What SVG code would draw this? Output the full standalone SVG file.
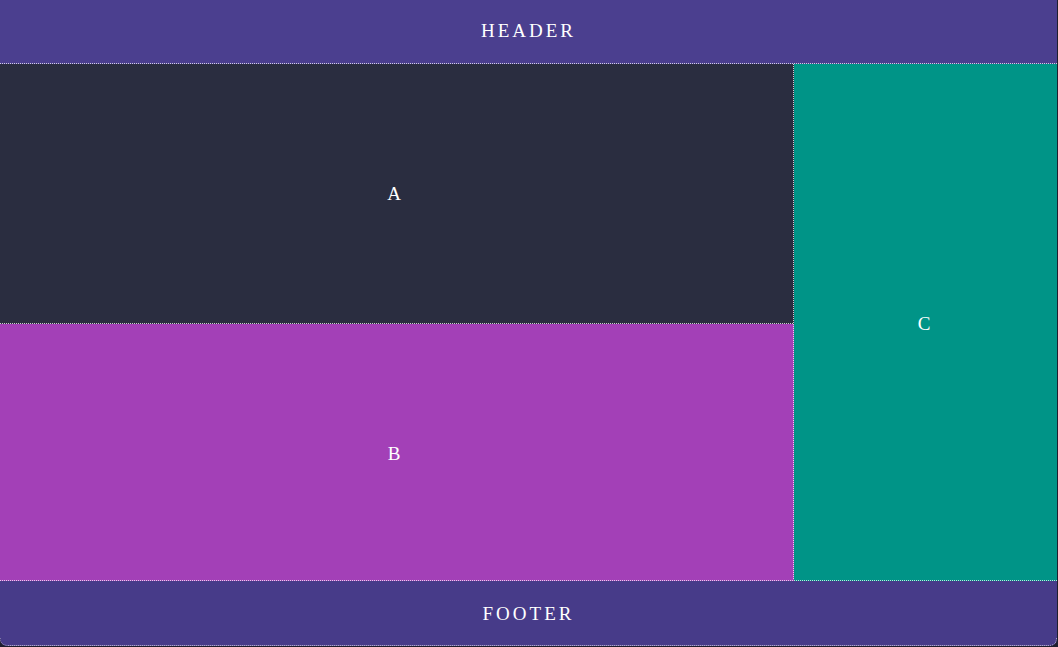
<svg xmlns="http://www.w3.org/2000/svg" width="1058" height="647" viewBox="0 0 1058 647">
<style>
.lbl{font-family:"Liberation Serif","DejaVu Serif",serif;font-size:19px;fill:#ffffff;text-anchor:middle;dominant-baseline:central}
.wide{letter-spacing:3px}
.dot{stroke:#ffffff;stroke-opacity:0.75;stroke-width:1;stroke-dasharray:1 1;fill:none}
</style>
<defs>
<clipPath id="frame"><path d="M0 0H1057V638Q1057 646 1049 646H8Q0 646 0 638Z"/></clipPath>
</defs>
<rect width="1058" height="647" fill="#1e1e2e"/>
<g clip-path="url(#frame)">
<g id="header"><rect x="0" y="0" width="1057" height="64" fill="#4b3f8f"/><text class="lbl wide" x="528.5" y="30">HEADER</text></g>
<g id="A"><rect x="0" y="64" width="794" height="260" fill="#2a2d40"/><text class="lbl" x="394" y="193">A</text></g>
<g id="B"><rect x="0" y="324" width="794" height="257" fill="#a340b7"/><text class="lbl" x="394" y="453">B</text></g>
<g id="C"><rect x="794" y="64" width="263" height="517" fill="#009487"/><text class="lbl" x="924" y="323">C</text></g>
<g id="footer"><rect x="0" y="581" width="1057" height="66" fill="#473b89"/><text class="lbl wide" x="528.5" y="613">FOOTER</text></g>
<g id="borders">
<line class="dot" x1="0" y1="63.5" x2="1057" y2="63.5"/>
<line class="dot" x1="0" y1="323.5" x2="793" y2="323.5"/>
<line class="dot" x1="0" y1="580.5" x2="1057" y2="580.5"/>
<line class="dot" x1="793.5" y1="64" x2="793.5" y2="580"/>
<path class="dot" d="M0 638Q0 645.5 8 645.5H1049Q1056.5 645.5 1056.5 638"/>
</g>
</g>
</svg>
